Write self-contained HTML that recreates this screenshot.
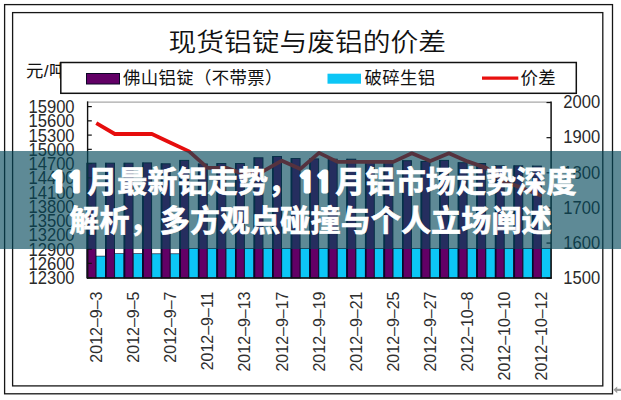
<!DOCTYPE html>
<html><head><meta charset="utf-8">
<style>
html,body{margin:0;padding:0;background:#fff;}
body{width:621px;height:400px;position:relative;overflow:hidden;}
svg{position:absolute;left:0;top:0;}
.title{font-family:"Noto Sans CJK SC","WenQuanYi Zen Hei",sans-serif;font-weight:350;font-size:25.5px;fill:#111;}
.cj17{font-family:"Liberation Sans","Noto Sans CJK SC",sans-serif;font-weight:400;font-size:17.4px;fill:#111;letter-spacing:0.35px;}
.num{font-family:"Liberation Sans",sans-serif;font-size:16px;fill:#2e2e2e;}
.numy{font-family:"Liberation Sans",sans-serif;font-size:16.6px;fill:#2a2a2a;}
.banner{position:absolute;left:0;top:151px;width:621px;height:97.5px;background:rgba(3,72,91,0.64);}
.banner .d{font-family:"NanumGothic",sans-serif;font-weight:800;letter-spacing:0.8px;margin-right:4.8px;-webkit-text-stroke:3px #fff;font-size:27.5px;}
.banner p{margin:0;position:absolute;left:0;width:621px;text-align:center;color:#fff;font-family:"Noto Sans CJK SC",sans-serif;font-weight:700;-webkit-text-stroke:0.7px #fff;font-size:30px;line-height:38px;white-space:nowrap;letter-spacing:0.15px;}
</style></head><body>
<svg width="621" height="400" viewBox="0 0 621 400">
<rect x="4.6" y="4.6" width="607.9" height="389.2" fill="none" stroke="#161616" stroke-width="1.3"/>
<rect x="12.6" y="12.6" width="590.2" height="373.3" fill="none" stroke="#161616" stroke-width="1.3"/>
<text x="168.6" y="50.6" class="title" textLength="277.5" lengthAdjust="spacingAndGlyphs">现货铝锭与废铝的价差</text>
<text x="26" y="77" class="cj17">元/吨</text>
<line x1="87.0" y1="102.1" x2="551.0" y2="102.1" stroke="#a8a8a8" stroke-width="1.4"/>
<rect x="87.00" y="163.20" width="8.90" height="114.80" fill="#620066" stroke="#0c0626" stroke-width="1"/>
<rect x="96.20" y="256.10" width="9.36" height="21.90" fill="#0cc6f6" stroke="#0c0626" stroke-width="0.6"/>
<rect x="86.60" y="162.90" width="1.6" height="115.10" fill="#08082a"/>
<rect x="105.56" y="163.20" width="8.90" height="114.80" fill="#620066" stroke="#0c0626" stroke-width="1"/>
<rect x="114.76" y="253.70" width="9.36" height="24.30" fill="#0cc6f6" stroke="#0c0626" stroke-width="0.6"/>
<rect x="105.16" y="162.90" width="1.6" height="115.10" fill="#08082a"/>
<rect x="124.12" y="163.20" width="8.90" height="114.80" fill="#620066" stroke="#0c0626" stroke-width="1"/>
<rect x="133.32" y="253.70" width="9.36" height="24.30" fill="#0cc6f6" stroke="#0c0626" stroke-width="0.6"/>
<rect x="123.72" y="162.90" width="1.6" height="115.10" fill="#08082a"/>
<rect x="142.68" y="162.90" width="8.90" height="115.10" fill="#620066" stroke="#0c0626" stroke-width="1"/>
<rect x="151.88" y="253.80" width="9.36" height="24.20" fill="#0cc6f6" stroke="#0c0626" stroke-width="0.6"/>
<rect x="142.28" y="162.60" width="1.6" height="115.40" fill="#08082a"/>
<rect x="161.24" y="163.80" width="8.90" height="114.20" fill="#620066" stroke="#0c0626" stroke-width="1"/>
<rect x="170.44" y="253.80" width="9.36" height="24.20" fill="#0cc6f6" stroke="#0c0626" stroke-width="0.6"/>
<rect x="160.84" y="163.50" width="1.6" height="114.50" fill="#08082a"/>
<rect x="179.80" y="160.40" width="8.90" height="117.60" fill="#620066" stroke="#0c0626" stroke-width="1"/>
<rect x="189.00" y="248.50" width="9.36" height="29.50" fill="#0cc6f6" stroke="#0c0626" stroke-width="0.6"/>
<rect x="179.40" y="160.10" width="1.6" height="117.90" fill="#08082a"/>
<rect x="198.36" y="164.00" width="8.90" height="114.00" fill="#620066" stroke="#0c0626" stroke-width="1"/>
<rect x="207.56" y="248.50" width="9.36" height="29.50" fill="#0cc6f6" stroke="#0c0626" stroke-width="0.6"/>
<rect x="197.96" y="163.70" width="1.6" height="114.30" fill="#08082a"/>
<rect x="216.92" y="163.50" width="8.90" height="114.50" fill="#620066" stroke="#0c0626" stroke-width="1"/>
<rect x="226.12" y="248.50" width="9.36" height="29.50" fill="#0cc6f6" stroke="#0c0626" stroke-width="0.6"/>
<rect x="216.52" y="163.20" width="1.6" height="114.80" fill="#08082a"/>
<rect x="235.48" y="163.50" width="8.90" height="114.50" fill="#620066" stroke="#0c0626" stroke-width="1"/>
<rect x="244.68" y="248.50" width="9.36" height="29.50" fill="#0cc6f6" stroke="#0c0626" stroke-width="0.6"/>
<rect x="235.08" y="163.20" width="1.6" height="114.80" fill="#08082a"/>
<rect x="254.04" y="157.80" width="8.90" height="120.20" fill="#620066" stroke="#0c0626" stroke-width="1"/>
<rect x="263.24" y="248.50" width="9.36" height="29.50" fill="#0cc6f6" stroke="#0c0626" stroke-width="0.6"/>
<rect x="253.64" y="157.50" width="1.6" height="120.50" fill="#08082a"/>
<rect x="272.60" y="156.50" width="8.90" height="121.50" fill="#620066" stroke="#0c0626" stroke-width="1"/>
<rect x="281.80" y="248.50" width="9.36" height="29.50" fill="#0cc6f6" stroke="#0c0626" stroke-width="0.6"/>
<rect x="272.20" y="156.20" width="1.6" height="121.80" fill="#08082a"/>
<rect x="291.16" y="158.50" width="8.90" height="119.50" fill="#620066" stroke="#0c0626" stroke-width="1"/>
<rect x="300.36" y="248.50" width="9.36" height="29.50" fill="#0cc6f6" stroke="#0c0626" stroke-width="0.6"/>
<rect x="290.76" y="158.20" width="1.6" height="119.80" fill="#08082a"/>
<rect x="309.72" y="158.90" width="8.90" height="119.10" fill="#620066" stroke="#0c0626" stroke-width="1"/>
<rect x="318.92" y="248.50" width="9.36" height="29.50" fill="#0cc6f6" stroke="#0c0626" stroke-width="0.6"/>
<rect x="309.32" y="158.60" width="1.6" height="119.40" fill="#08082a"/>
<rect x="328.28" y="159.20" width="8.90" height="118.80" fill="#620066" stroke="#0c0626" stroke-width="1"/>
<rect x="337.48" y="248.50" width="9.36" height="29.50" fill="#0cc6f6" stroke="#0c0626" stroke-width="0.6"/>
<rect x="327.88" y="158.90" width="1.6" height="119.10" fill="#08082a"/>
<rect x="346.84" y="159.20" width="8.90" height="118.80" fill="#620066" stroke="#0c0626" stroke-width="1"/>
<rect x="356.04" y="248.50" width="9.36" height="29.50" fill="#0cc6f6" stroke="#0c0626" stroke-width="0.6"/>
<rect x="346.44" y="158.90" width="1.6" height="119.10" fill="#08082a"/>
<rect x="365.40" y="161.00" width="8.90" height="117.00" fill="#620066" stroke="#0c0626" stroke-width="1"/>
<rect x="374.60" y="248.50" width="9.36" height="29.50" fill="#0cc6f6" stroke="#0c0626" stroke-width="0.6"/>
<rect x="365.00" y="160.70" width="1.6" height="117.30" fill="#08082a"/>
<rect x="383.96" y="161.50" width="8.90" height="116.50" fill="#620066" stroke="#0c0626" stroke-width="1"/>
<rect x="393.16" y="248.50" width="9.36" height="29.50" fill="#0cc6f6" stroke="#0c0626" stroke-width="0.6"/>
<rect x="383.56" y="161.20" width="1.6" height="116.80" fill="#08082a"/>
<rect x="402.52" y="160.70" width="8.90" height="117.30" fill="#620066" stroke="#0c0626" stroke-width="1"/>
<rect x="411.72" y="248.50" width="9.36" height="29.50" fill="#0cc6f6" stroke="#0c0626" stroke-width="0.6"/>
<rect x="402.12" y="160.40" width="1.6" height="117.60" fill="#08082a"/>
<rect x="421.08" y="161.50" width="8.90" height="116.50" fill="#620066" stroke="#0c0626" stroke-width="1"/>
<rect x="430.28" y="248.50" width="9.36" height="29.50" fill="#0cc6f6" stroke="#0c0626" stroke-width="0.6"/>
<rect x="420.68" y="161.20" width="1.6" height="116.80" fill="#08082a"/>
<rect x="439.64" y="160.40" width="8.90" height="117.60" fill="#620066" stroke="#0c0626" stroke-width="1"/>
<rect x="448.84" y="248.50" width="9.36" height="29.50" fill="#0cc6f6" stroke="#0c0626" stroke-width="0.6"/>
<rect x="439.24" y="160.10" width="1.6" height="117.90" fill="#08082a"/>
<rect x="458.20" y="162.70" width="8.90" height="115.30" fill="#620066" stroke="#0c0626" stroke-width="1"/>
<rect x="467.40" y="248.50" width="9.36" height="29.50" fill="#0cc6f6" stroke="#0c0626" stroke-width="0.6"/>
<rect x="457.80" y="162.40" width="1.6" height="115.60" fill="#08082a"/>
<rect x="476.76" y="163.50" width="8.90" height="114.50" fill="#620066" stroke="#0c0626" stroke-width="1"/>
<rect x="485.96" y="248.50" width="9.36" height="29.50" fill="#0cc6f6" stroke="#0c0626" stroke-width="0.6"/>
<rect x="476.36" y="163.20" width="1.6" height="114.80" fill="#08082a"/>
<rect x="495.32" y="165.80" width="8.90" height="112.20" fill="#620066" stroke="#0c0626" stroke-width="1"/>
<rect x="504.52" y="248.50" width="9.36" height="29.50" fill="#0cc6f6" stroke="#0c0626" stroke-width="0.6"/>
<rect x="494.92" y="165.50" width="1.6" height="112.50" fill="#08082a"/>
<rect x="513.88" y="165.80" width="8.90" height="112.20" fill="#620066" stroke="#0c0626" stroke-width="1"/>
<rect x="523.08" y="248.50" width="9.36" height="29.50" fill="#0cc6f6" stroke="#0c0626" stroke-width="0.6"/>
<rect x="513.48" y="165.50" width="1.6" height="112.50" fill="#08082a"/>
<rect x="532.44" y="166.10" width="8.90" height="111.90" fill="#620066" stroke="#0c0626" stroke-width="1"/>
<rect x="541.64" y="248.50" width="9.36" height="29.50" fill="#0cc6f6" stroke="#0c0626" stroke-width="0.6"/>
<rect x="532.04" y="165.80" width="1.6" height="112.20" fill="#08082a"/>
<polyline points="96.28,123.20 114.84,134.00 133.40,134.00 151.96,134.00 170.52,142.70 189.08,151.40 207.64,167.90 226.20,167.90 244.76,174.40 263.32,171.20 281.88,160.70 300.44,168.90 319.00,152.90 337.56,161.90 356.12,161.90 374.68,161.90 393.24,161.90 411.80,153.30 430.36,161.00 448.92,153.30 467.48,161.40 486.04,167.90 504.60,181.40 523.16,188.40 541.72,195.90" fill="none" stroke="#e60d0d" stroke-width="3.8" stroke-linejoin="round"/>
<line x1="87.6" y1="101.4" x2="87.6" y2="278.7" stroke="#111" stroke-width="1.4"/>
<line x1="551.1" y1="101.4" x2="551.1" y2="278.7" stroke="#111" stroke-width="1.5"/>
<line x1="87.0" y1="278.0" x2="551.8" y2="278.0" stroke="#111" stroke-width="1.5"/>
<line x1="87.6" y1="277.60" x2="91.8" y2="277.60" stroke="#111" stroke-width="1.2"/>
<text transform="translate(74.6,284.10) scale(1,1.07)" class="numy" text-anchor="end">12300</text>
<line x1="87.6" y1="263.35" x2="91.8" y2="263.35" stroke="#111" stroke-width="1.2"/>
<text transform="translate(74.6,269.85) scale(1,1.07)" class="numy" text-anchor="end">12600</text>
<line x1="87.6" y1="249.10" x2="91.8" y2="249.10" stroke="#111" stroke-width="1.2"/>
<text transform="translate(74.6,255.60) scale(1,1.07)" class="numy" text-anchor="end">12900</text>
<line x1="87.6" y1="234.85" x2="91.8" y2="234.85" stroke="#111" stroke-width="1.2"/>
<text transform="translate(74.6,241.35) scale(1,1.07)" class="numy" text-anchor="end">13200</text>
<line x1="87.6" y1="220.60" x2="91.8" y2="220.60" stroke="#111" stroke-width="1.2"/>
<text transform="translate(74.6,227.10) scale(1,1.07)" class="numy" text-anchor="end">13500</text>
<line x1="87.6" y1="206.35" x2="91.8" y2="206.35" stroke="#111" stroke-width="1.2"/>
<text transform="translate(74.6,212.85) scale(1,1.07)" class="numy" text-anchor="end">13800</text>
<line x1="87.6" y1="192.10" x2="91.8" y2="192.10" stroke="#111" stroke-width="1.2"/>
<text transform="translate(74.6,198.60) scale(1,1.07)" class="numy" text-anchor="end">14100</text>
<line x1="87.6" y1="177.85" x2="91.8" y2="177.85" stroke="#111" stroke-width="1.2"/>
<text transform="translate(74.6,184.35) scale(1,1.07)" class="numy" text-anchor="end">14400</text>
<line x1="87.6" y1="163.60" x2="91.8" y2="163.60" stroke="#111" stroke-width="1.2"/>
<text transform="translate(74.6,170.10) scale(1,1.07)" class="numy" text-anchor="end">14700</text>
<line x1="87.6" y1="149.35" x2="91.8" y2="149.35" stroke="#111" stroke-width="1.2"/>
<text transform="translate(74.6,155.85) scale(1,1.07)" class="numy" text-anchor="end">15000</text>
<line x1="87.6" y1="135.10" x2="91.8" y2="135.10" stroke="#111" stroke-width="1.2"/>
<text transform="translate(74.6,141.60) scale(1,1.07)" class="numy" text-anchor="end">15300</text>
<line x1="87.6" y1="120.85" x2="91.8" y2="120.85" stroke="#111" stroke-width="1.2"/>
<text transform="translate(74.6,127.35) scale(1,1.07)" class="numy" text-anchor="end">15600</text>
<line x1="87.6" y1="106.60" x2="91.8" y2="106.60" stroke="#111" stroke-width="1.2"/>
<text transform="translate(74.6,113.10) scale(1,1.07)" class="numy" text-anchor="end">15900</text>
<line x1="546.5" y1="278.20" x2="551.0" y2="278.20" stroke="#111" stroke-width="1.2"/>
<text transform="translate(563.3,284.00) scale(1,1.07)" class="numy">1500</text>
<line x1="546.5" y1="243.07" x2="551.0" y2="243.07" stroke="#111" stroke-width="1.2"/>
<text transform="translate(563.3,248.87) scale(1,1.07)" class="numy">1600</text>
<line x1="546.5" y1="207.94" x2="551.0" y2="207.94" stroke="#111" stroke-width="1.2"/>
<text transform="translate(563.3,213.74) scale(1,1.07)" class="numy">1700</text>
<line x1="546.5" y1="172.81" x2="551.0" y2="172.81" stroke="#111" stroke-width="1.2"/>
<text transform="translate(563.3,178.61) scale(1,1.07)" class="numy">1800</text>
<line x1="546.5" y1="137.68" x2="551.0" y2="137.68" stroke="#111" stroke-width="1.2"/>
<text transform="translate(563.3,143.48) scale(1,1.07)" class="numy">1900</text>
<line x1="546.5" y1="102.55" x2="551.0" y2="102.55" stroke="#111" stroke-width="1.2"/>
<text transform="translate(563.3,108.35) scale(1,1.07)" class="numy">2000</text>
<text transform="translate(101.98,291.5) rotate(-90) scale(1,1.08)" class="num" text-anchor="end">2012–9–3</text>
<text transform="translate(139.10,291.5) rotate(-90) scale(1,1.08)" class="num" text-anchor="end">2012–9–5</text>
<text transform="translate(176.22,291.5) rotate(-90) scale(1,1.08)" class="num" text-anchor="end">2012–9–7</text>
<text transform="translate(213.34,291.5) rotate(-90) scale(1,1.08)" class="num" text-anchor="end">2012–9–11</text>
<text transform="translate(250.46,291.5) rotate(-90) scale(1,1.08)" class="num" text-anchor="end">2012–9–13</text>
<text transform="translate(287.58,291.5) rotate(-90) scale(1,1.08)" class="num" text-anchor="end">2012–9–17</text>
<text transform="translate(324.70,291.5) rotate(-90) scale(1,1.08)" class="num" text-anchor="end">2012–9–19</text>
<text transform="translate(361.82,291.5) rotate(-90) scale(1,1.08)" class="num" text-anchor="end">2012–9–21</text>
<text transform="translate(398.94,291.5) rotate(-90) scale(1,1.08)" class="num" text-anchor="end">2012–9–25</text>
<text transform="translate(436.06,291.5) rotate(-90) scale(1,1.08)" class="num" text-anchor="end">2012–9–27</text>
<text transform="translate(473.18,291.5) rotate(-90) scale(1,1.08)" class="num" text-anchor="end">2012–10–8</text>
<text transform="translate(510.30,291.5) rotate(-90) scale(1,1.08)" class="num" text-anchor="end">2012–10–10</text>
<text transform="translate(547.42,291.5) rotate(-90) scale(1,1.08)" class="num" text-anchor="end">2012–10–12</text>
<rect x="60.8" y="62.5" width="515.5" height="30.8" fill="#fff" stroke="#111" stroke-width="1.5"/>
<rect x="86.5" y="73.5" width="33" height="10.5" fill="#620066" stroke="#0c0626" stroke-width="1"/>
<text x="123" y="84" class="cj17">佛山铝锭（不带票）</text>
<rect x="327.5" y="73.7" width="33.5" height="10" fill="#0cc6f6"/>
<text x="364.5" y="84" class="cj17">破碎生铝</text>
<line x1="482" y1="78.2" x2="518.3" y2="78.2" stroke="#e8100f" stroke-width="3.2"/>
<text x="520.5" y="84" class="cj17">价差</text>
<path d="M613.4,389.8 L617.2,386.4 L617.2,388.7 L621,388.7 L621,391 L617.2,391 L617.2,393.2 Z" fill="#9a9a9a"/>
</svg>
<div class="banner">
<p style="top:8.6px;left:0px"><span class="d" style="margin-left:5.5px;margin-right:2.3px">11</span>月最新铝走势，<span class="d" style="margin-right:2.2px">11</span>月铝市场走势深度</p>
<p style="top:47.6px">解析，多方观点碰撞与个人立场阐述</p>
</div>
</body></html>
